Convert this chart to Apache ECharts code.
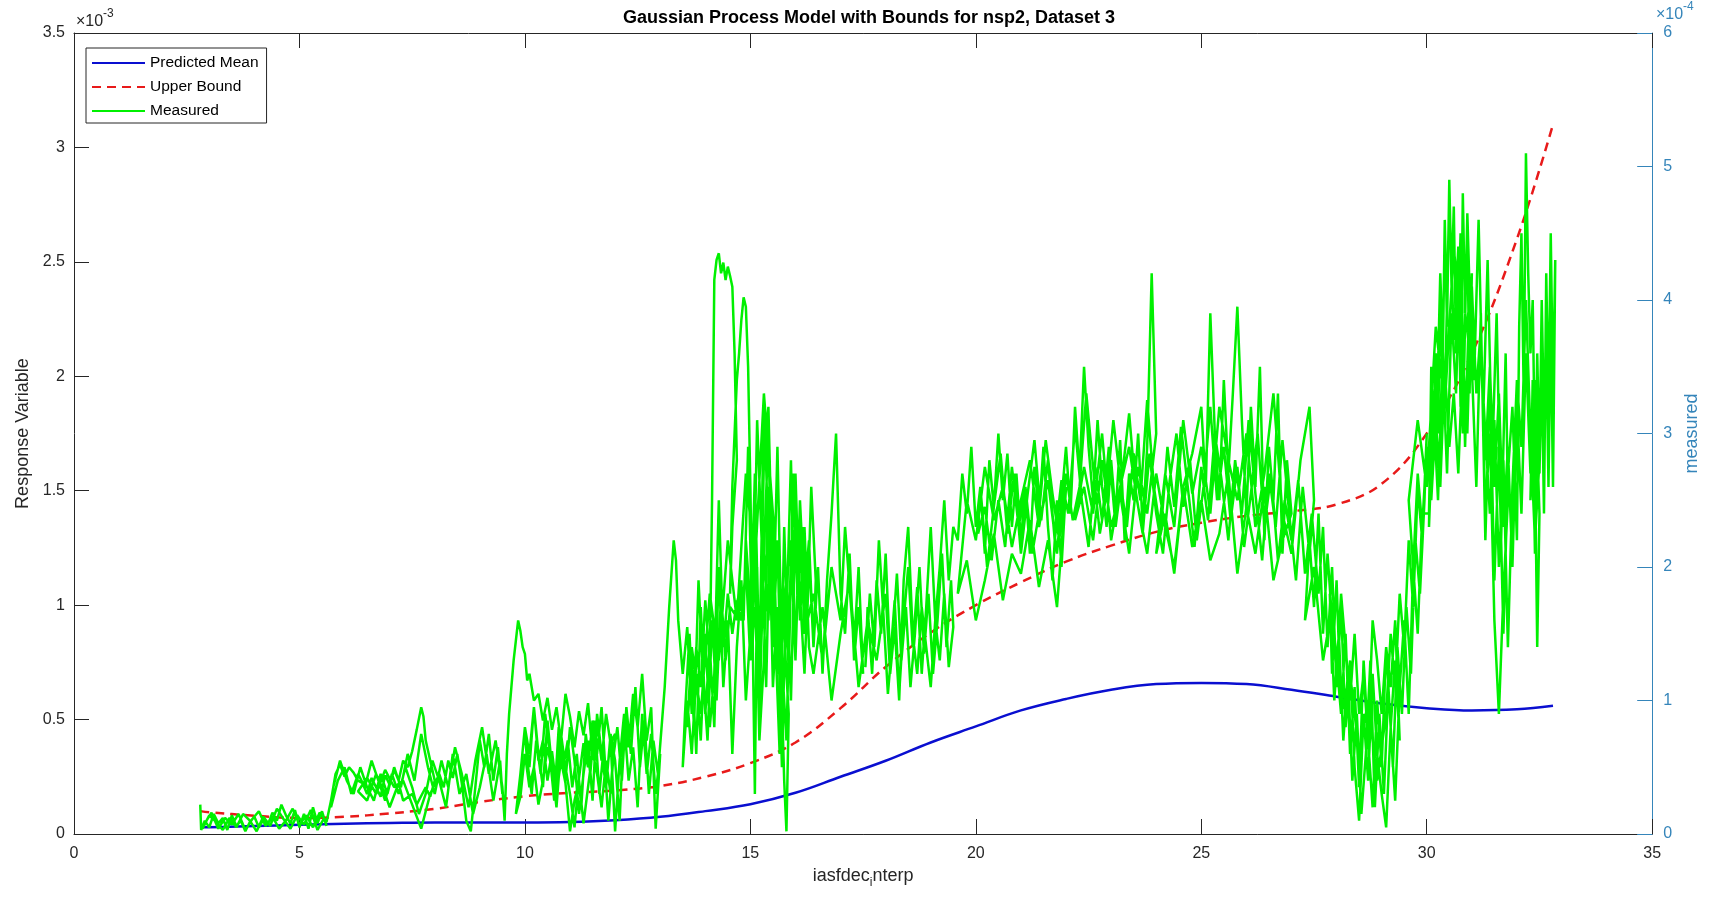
<!DOCTYPE html>
<html>
<head>
<meta charset="utf-8">
<title>Gaussian Process Model with Bounds for nsp2, Dataset 3</title>
<script src="https://cdn.jsdelivr.net/npm/echarts@6/dist/echarts.min.js"></script>
<style>
  html, body { margin: 0; padding: 0; background: #fff; }
  #chart { width: 1709px; height: 899px; }
</style>
</head>
<body>
<div id="chart"></div>
<script>
// model curves (left axis, units of 1e-3)
const modelX = [2.8, 3, 4, 5, 6, 7, 8, 9, 10, 11, 12, 13, 14, 15, 16, 17, 18, 19, 20, 21, 22, 23, 24, 25, 26, 27, 28, 29, 30, 31, 32, 32.8]
const predictedMean = [0.03, 0.03, 0.035, 0.04, 0.045, 0.048, 0.05, 0.05, 0.05, 0.052, 0.06, 0.075, 0.1, 0.13, 0.18, 0.25, 0.32, 0.4, 0.47, 0.54, 0.59, 0.63, 0.655, 0.66, 0.655, 0.63, 0.6, 0.57, 0.55, 0.54, 0.545, 0.56]
const upperBound = [0.1, 0.095, 0.08, 0.07, 0.075, 0.09, 0.11, 0.14, 0.165, 0.18, 0.19, 0.21, 0.25, 0.31, 0.4, 0.55, 0.73, 0.88, 1.0, 1.1, 1.19, 1.26, 1.32, 1.36, 1.39, 1.41, 1.44, 1.53, 1.75, 2.1, 2.6, 3.1]

// measured trace (right axis, units of 1e-4), one line per pass
const measuredX = [
  2.80,2.82,2.9,3.0,3.1,3.2,3.3,3.4,3.5,3.6,3.7,3.8,3.9,4.0,4.1,4.2,4.3,4.4,4.5,4.6,4.7,4.8,4.9,5.0,5.1,5.2,5.3,5.4,5.5,5.6,
  5.55,5.4,5.25,5.1,4.95,4.8,4.65,4.5,4.35,4.2,4.05,3.9,3.75,3.6,3.45,3.3,3.15,3.0,2.85,
  2.9,3.05,3.2,3.35,3.5,3.65,3.8,3.95,4.1,4.25,4.4,4.55,4.7,4.85,5.0,5.15,5.3,5.45,5.6,
  5.7,5.8,5.9,6.0,6.1,6.2,6.3,6.4,6.5,6.6,6.7,6.8,6.9,7.0,7.1,7.2,7.3,7.4,7.5,7.6,7.7,7.75,7.8,7.9,8.0,
  7.9,7.8,7.6,7.5,7.3,7.2,7.0,6.9,6.7,6.5,6.3,
  6.5,6.7,6.9,7.1,7.3,7.5,7.7,7.9,8.1,8.2,8.3,8.4,8.5,8.6,8.7,8.8,8.9,9.0,9.1,9.2,9.3,9.4,9.5,
  9.45,9.3,9.15,9.0,8.85,8.7,8.55,8.4,8.25,8.1,7.95,7.8,7.65,7.5,7.35,7.2,7.05,6.9,6.75,6.6,6.45,6.3,6.15,6.0,5.85,5.7,
  5.75,5.9,6.05,6.2,6.35,6.5,6.65,6.8,6.95,7.1,7.25,7.4,7.55,7.7,7.85,8.0,8.15,8.3,8.45,8.6,8.75,8.9,9.05,9.2,9.35,9.5,
  9.55,9.6,9.65,9.7,9.75,9.8,9.85,9.9,9.95,10.0,10.05,10.1,10.2,10.3,
  10.4,10.5,10.6,10.7,10.8,10.9,11.0,11.1,11.2,11.3,11.4,11.5,11.6,11.7,11.8,11.9,12.0,
  11.9,11.8,11.7,11.6,11.5,11.4,11.3,11.2,11.1,11.0,10.9,10.8,10.7,10.6,10.5,10.4,10.3,10.2,10.1,10.0,9.9,9.8,
  9.9,10.0,10.1,10.2,10.3,10.4,10.5,10.6,10.7,10.8,10.9,11.0,11.1,11.2,11.3,11.4,11.5,11.6,11.7,11.8,11.9,12.0,12.1,12.2,12.3,12.4,12.5,12.6,12.7,12.8,12.9,13.0,
  12.9,12.8,12.7,12.6,12.5,12.4,12.3,12.2,12.1,12.0,11.9,11.8,11.7,11.6,11.5,11.4,11.3,11.2,11.1,11.0,10.9,10.8,10.7,10.6,10.5,10.4,10.3,10.2,10.1,10.0,
  10.05,10.15,10.25,10.35,10.45,10.55,10.65,10.75,10.85,10.95,11.05,11.15,11.25,11.35,11.45,11.55,11.65,11.75,11.85,11.95,12.05,12.15,12.25,12.35,12.45,12.55,12.65,12.75,12.85,12.95,
  13.1,13.2,13.3,13.35,13.4,13.5,13.6,13.7,13.8,13.9,14.0,14.1,
  14.15,14.2,14.25,14.3,14.35,14.4,14.45,14.5,14.55,14.6,14.65,14.7,
  14.6,14.55,14.6,14.7,14.75,14.8,14.85,14.9,14.95,15.0,
  15.05,15.1,15.15,15.2,15.3,15.4,15.45,15.5,15.6,15.7,15.75,15.8,15.85,
  15.7,15.6,15.5,15.4,15.3,15.2,15.1,15.0,14.9,14.8,14.7,14.6,14.5,14.4,14.3,14.2,14.1,14.0,13.9,13.8,13.7,13.6,13.5,
  13.55,13.65,13.75,13.85,13.95,14.05,14.15,14.25,14.35,14.45,14.55,14.65,14.75,14.85,14.95,15.05,15.15,15.25,15.35,15.45,15.55,15.65,15.75,15.85,15.95,16.05,16.15,16.25,16.35,16.45,
  16.4,16.3,16.2,16.1,16.0,15.9,15.8,15.7,15.6,15.5,15.4,15.3,15.2,15.1,15.0,14.9,14.8,14.7,14.6,14.5,14.4,14.3,14.2,14.1,14.0,13.9,13.8,13.7,13.6,
  13.7,13.9,14.1,14.3,14.5,14.7,14.9,15.1,15.3,15.5,15.7,15.9,16.0,16.1,16.2,16.3,16.4,16.5,16.6,16.7,16.8,16.9,17.0,17.1,17.2,17.3,17.4,17.5,
  17.4,17.3,17.1,17.0,16.8,16.6,16.4,16.2,
  16.1,16.0,15.9,15.8,15.7,15.6,15.5,15.4,15.3,15.2,15.1,15.0,14.9,
  15.0,15.1,15.2,15.3,15.4,15.5,15.6,15.7,15.8,15.9,16.0,16.1,16.2,16.3,
  16.4,16.6,16.8,17.0,17.2,17.4,17.6,17.8,18.0,18.1,18.2,18.3,18.4,18.5,18.6,18.7,18.8,18.9,19.0,19.1,19.2,19.3,19.4,19.5,
  19.45,19.35,19.25,19.15,19.05,18.95,18.85,18.75,18.65,18.55,18.45,18.35,18.25,18.15,18.05,17.95,17.85,17.75,17.65,17.55,
  17.6,17.7,17.8,17.9,18.0,18.1,18.2,18.3,18.4,18.5,18.6,18.7,18.8,18.9,19.0,19.1,19.2,19.3,19.4,19.5,
  19.6,19.7,19.8,19.9,20.0,20.1,20.2,20.3,20.4,20.5,20.6,20.7,20.8,20.9,21.0,21.1,21.2,21.3,21.4,21.5,21.6,21.7,21.8,21.9,22.0,
  21.8,21.6,21.4,21.2,21.0,20.8,20.6,20.4,20.2,20.0,19.8,19.6,
  19.8,20.0,20.2,20.4,20.6,20.8,21.0,21.2,21.4,21.6,21.8,22.0,22.1,22.2,22.3,22.4,22.5,22.6,22.7,22.8,22.9,23.0,23.1,23.2,23.3,23.4,23.5,23.6,23.7,23.8,23.9,24.0,
  23.8,23.6,23.4,23.2,23.0,22.8,22.6,22.4,22.2,
  22.4,22.6,22.8,23.0,23.2,23.4,23.6,23.8,24.0,24.2,24.4,24.6,24.8,25.0,25.1,25.2,25.3,25.4,25.5,25.6,25.7,25.8,25.9,26.0,26.1,26.2,26.3,26.4,26.5,26.6,26.7,26.8,26.9,27.0,
  26.8,26.6,26.4,26.2,26.0,25.8,25.6,25.4,25.2,25.0,24.8,24.6,24.4,24.2,24.0,
  24.2,24.4,24.6,24.8,25.0,25.2,25.4,25.6,25.8,26.0,26.2,26.4,26.6,26.8,27.0,27.2,27.4,27.5,
  27.4,27.25,27.1,26.95,26.8,26.65,26.5,26.35,26.2,26.05,25.9,25.75,25.6,25.45,25.3,25.15,25.0,24.85,24.7,24.55,24.4,24.25,24.1,23.95,23.8,23.65,23.5,23.35,23.2,23.05,22.9,22.75,22.6,22.45,22.3,22.15,22.0,21.85,21.7,21.55,21.4,21.25,21.1,20.95,20.8,20.65,20.5,20.35,20.2,20.05,
  20.1,20.25,20.4,20.55,20.7,20.85,21.0,21.15,21.3,21.45,21.6,21.75,21.9,22.05,22.2,22.35,22.5,22.65,22.8,22.95,23.1,23.25,23.4,23.55,23.7,23.85,24.0,24.15,24.3,24.45,24.6,24.75,24.9,25.05,25.2,25.35,25.5,25.65,25.8,25.95,26.1,26.25,26.4,26.55,26.7,26.85,27.0,27.15,27.3,27.45,
  27.6,27.7,27.8,27.9,28.0,28.1,28.2,28.3,28.4,28.5,28.6,28.7,28.8,28.9,29.0,29.1,29.2,29.3,29.4,
  29.3,29.2,29.1,29.0,28.9,28.8,28.7,28.6,28.5,28.4,28.3,28.2,28.1,28.0,27.9,27.8,27.7,27.6,27.5,27.4,27.3,
  27.5,27.7,27.9,28.1,28.3,28.5,28.7,28.9,29.1,29.2,29.3,29.4,29.5,29.6,29.7,29.8,29.9,30.0,
  29.95,29.85,29.75,29.65,29.55,29.45,29.35,29.25,29.15,29.05,28.95,28.85,28.75,28.65,28.55,28.45,28.35,28.25,28.15,28.05,27.95,27.85,
  27.9,28.0,28.1,28.2,28.3,28.4,28.5,28.6,28.7,28.8,28.9,29.0,29.1,29.2,29.3,29.4,29.5,29.6,29.7,29.8,29.9,
  30.05,30.1,30.15,30.2,30.25,30.3,30.35,30.4,30.45,30.5,30.55,30.6,30.65,30.7,30.75,30.8,30.85,30.9,30.95,31.0,
  30.9,30.8,30.7,30.6,30.5,30.4,30.3,30.2,30.1,30.0,29.9,29.8,29.7,29.6,
  29.8,30.0,30.2,30.4,30.6,30.8,31.0,31.1,31.2,31.3,31.4,31.5,31.6,31.7,31.8,
  31.75,31.65,31.55,31.45,31.35,31.25,31.15,31.05,30.95,30.85,30.75,30.65,30.55,30.45,30.35,30.25,30.15,30.05,
  30.1,30.2,30.3,30.4,30.5,30.6,30.7,30.8,30.9,31.0,31.1,31.2,31.3,31.4,31.5,31.6,31.7,31.8,
  31.9,32.0,32.05,32.1,32.15,32.2,32.25,32.3,32.35,32.4,32.45,32.5,
  32.4,32.3,32.2,32.1,32.0,31.9,31.8,31.7,31.6,31.5,31.4,31.3,31.2,
  31.3,31.4,31.5,31.6,31.7,31.8,31.9,32.0,32.1,32.2,32.3,32.4,32.5,32.55,32.6,32.65,32.7,32.75,32.8,32.85,
  32.8,32.75,32.7,32.65,32.6,32.55,32.5,32.45,32.4,32.35,32.3,
  32.35,32.4,32.45,32.5,32.55,32.6,32.65,32.7,32.75,32.8,32.82
]
const measuredY = [
  0.22,0.03,0.10,0.05,0.15,0.08,0.12,0.03,0.14,0.06,0.10,0.02,0.09,0.13,0.05,0.11,0.07,0.16,0.10,0.22,0.14,0.08,0.18,0.05,0.15,0.04,0.20,0.08,0.17,0.06,
  0.12,0.03,0.18,0.07,0.14,0.04,0.11,0.19,0.06,0.13,0.02,0.10,0.15,0.05,0.12,0.03,0.09,0.14,0.04,
  0.08,0.16,0.04,0.12,0.07,0.15,0.03,0.11,0.17,0.06,0.13,0.04,0.10,0.19,0.07,0.14,0.05,0.16,0.09,
  0.25,0.45,0.52,0.43,0.50,0.46,0.40,0.38,0.30,0.42,0.35,0.28,0.44,0.37,0.48,0.40,0.55,0.50,0.62,0.78,0.95,0.88,0.70,0.55,0.40,
  0.28,0.35,0.22,0.30,0.25,0.38,0.20,0.30,0.45,0.25,0.32,
  0.42,0.30,0.48,0.35,0.40,0.22,0.04,0.30,0.45,0.35,0.55,0.42,0.60,0.38,0.10,0.02,0.35,0.70,0.50,0.75,0.40,0.65,0.30,
  0.55,0.25,0.60,0.35,0.15,0.45,0.30,0.60,0.20,0.40,0.55,0.30,0.15,0.35,0.50,0.30,0.45,0.25,0.40,0.55,0.35,0.45,0.30,0.50,0.40,0.20,
  0.35,0.55,0.40,0.30,0.50,0.35,0.25,0.45,0.30,0.50,0.35,0.60,0.40,0.75,0.50,0.30,0.55,0.35,0.65,0.45,0.20,0.55,0.80,0.45,0.70,0.35,
  0.10,0.60,0.90,1.10,1.30,1.45,1.60,1.52,1.40,1.35,1.15,1.20,1.00,1.05,
  0.85,1.02,0.78,0.95,0.70,1.05,0.88,0.65,0.92,0.74,0.98,0.60,0.82,0.55,0.90,0.68,0.75,
  0.30,0.55,0.20,0.45,0.62,0.35,0.08,0.40,0.25,0.02,0.38,0.55,0.30,0.48,0.65,0.40,0.22,0.50,0.35,0.60,0.28,0.15,
  0.45,0.80,0.60,0.95,0.55,0.70,0.40,0.62,0.35,0.75,0.50,0.30,0.05,0.42,0.68,0.50,0.85,0.60,0.95,0.40,0.70,0.02,0.55,0.90,0.65,1.05,0.80,1.20,0.70,0.95,0.04,0.60,
  0.30,0.75,0.45,0.90,0.20,0.65,0.40,0.85,0.10,0.55,0.75,0.35,0.60,0.90,0.25,0.70,0.45,0.15,0.55,0.80,0.40,0.65,0.20,0.50,0.85,0.35,0.60,0.95,0.50,0.75,
  0.55,0.30,0.70,0.45,0.90,0.60,0.25,0.80,0.50,0.70,0.35,0.60,0.20,0.75,0.45,0.85,0.30,0.65,0.10,0.55,0.80,0.40,0.95,0.60,1.10,0.50,0.85,0.30,0.70,0.45,
  1.10,1.70,2.20,2.05,1.60,1.20,1.55,0.90,1.40,1.10,1.75,1.30,
  2.50,4.15,4.30,4.35,4.20,4.28,4.15,4.25,4.18,4.10,3.60,2.80,
  2.30,1.80,2.60,3.40,3.60,3.85,4.02,3.95,3.50,2.60,
  1.50,0.30,2.00,1.20,2.80,3.20,2.50,1.40,2.20,1.00,0.40,0.02,0.90,
  1.80,1.20,2.40,1.60,2.10,0.90,1.70,1.30,2.00,1.60,1.75,1.50,1.80,1.40,2.50,1.20,0.80,1.50,0.70,1.20,0.60,1.00,0.50,
  0.90,1.50,0.80,1.90,1.20,0.70,1.60,1.00,1.80,1.30,1.70,1.65,1.80,1.60,2.90,1.40,3.10,2.20,1.10,2.60,1.50,0.60,2.30,1.20,2.70,1.70,2.30,1.50,2.60,1.90,
  1.40,2.10,1.20,1.80,2.40,1.00,2.00,0.50,1.70,1.10,2.60,1.30,0.70,2.10,1.50,1.00,1.90,1.40,0.60,1.60,1.10,2.00,0.80,1.40,0.90,1.70,0.60,1.30,0.80,
  1.40,0.90,1.80,1.30,2.20,1.60,2.70,2.00,3.30,2.40,1.60,2.20,1.30,2.50,1.80,2.20,1.40,2.00,1.20,1.90,2.40,3.00,1.80,1.50,2.10,1.30,1.70,1.20,
  2.00,1.40,2.30,1.60,2.00,1.30,1.80,1.50,
  2.40,1.30,2.80,1.60,0.80,2.20,1.40,3.00,2.10,1.10,2.50,1.70,2.20,
  1.50,2.70,1.20,3.30,2.20,1.50,2.90,1.30,0.70,2.10,2.70,1.60,2.30,1.40,
  1.20,1.70,1.00,1.50,1.90,1.10,1.60,1.30,1.80,1.20,1.55,1.00,1.90,2.30,1.50,1.20,1.70,1.40,1.10,1.60,1.30,1.80,1.25,1.55,
  1.90,1.40,2.10,1.60,1.20,1.80,1.35,2.00,1.50,1.10,1.70,1.30,1.95,1.45,1.05,1.65,2.20,1.40,1.80,1.25,
  1.70,1.20,1.90,1.50,2.10,1.30,1.75,1.05,1.60,2.00,1.40,1.85,1.20,1.70,2.30,1.60,2.00,2.50,1.90,2.30,
  2.20,2.70,2.40,2.90,2.30,2.60,2.10,2.80,2.45,3.00,2.50,2.85,2.30,2.70,2.20,2.60,2.10,2.75,2.40,2.90,2.30,1.90,2.50,2.00,2.60,
  1.70,2.20,1.85,2.35,1.95,2.10,1.75,2.25,1.90,1.60,2.05,1.80,
  2.50,2.20,2.75,2.35,2.60,2.15,2.50,2.80,2.30,2.65,2.10,2.90,2.40,3.20,2.70,3.50,2.90,2.50,3.10,2.60,2.30,2.80,2.40,2.95,2.20,2.70,2.50,3.00,2.30,2.90,4.20,3.00,
  2.40,2.75,2.10,2.55,2.30,2.80,2.20,2.60,2.35,
  2.75,2.40,3.00,2.20,2.60,2.90,2.45,2.10,2.70,2.30,2.00,2.60,2.85,3.20,2.60,3.90,3.00,2.50,3.40,2.70,3.30,3.95,3.10,2.40,3.20,2.60,3.50,2.20,2.90,2.50,3.30,2.10,2.80,2.40,
  2.20,1.90,2.60,2.10,2.45,1.95,2.70,2.25,2.05,2.50,2.15,2.60,1.95,2.40,2.10,
  2.70,2.30,3.10,2.55,2.90,2.40,3.20,2.80,2.50,3.00,2.30,2.70,3.30,2.40,2.10,2.80,3.20,2.50,
  2.10,2.60,1.90,2.40,2.95,2.30,2.70,2.05,2.55,3.10,2.40,2.80,2.20,2.65,3.00,2.35,2.75,2.15,2.60,3.05,2.45,2.90,2.25,2.60,3.25,2.50,2.85,2.30,2.65,3.10,2.55,2.25,2.75,3.30,2.60,2.35,2.70,2.20,2.55,2.95,2.40,2.10,2.60,2.30,2.75,2.15,2.50,2.05,2.45,2.25,
  2.60,2.00,2.45,2.85,2.25,2.70,2.10,2.55,2.95,2.35,2.80,2.20,2.65,2.40,3.05,2.50,2.15,2.75,2.35,2.90,2.30,2.70,3.15,2.55,2.25,2.85,2.40,2.10,2.65,3.00,2.45,2.80,2.20,2.60,3.20,2.50,2.90,2.35,2.75,2.15,2.55,3.00,2.30,2.70,2.05,2.50,2.20,2.65,1.95,2.40,
  1.80,2.30,1.40,2.00,1.10,1.70,0.80,1.30,0.50,0.10,0.90,0.40,1.20,0.60,0.30,0.05,0.80,1.30,0.70,
  1.60,1.10,1.40,0.90,1.30,1.60,0.70,1.20,0.90,1.50,1.00,1.40,1.80,1.20,1.60,2.10,1.50,2.40,1.70,2.20,1.60,
  2.00,1.30,1.70,0.90,1.20,0.60,1.00,0.40,0.90,1.50,1.10,1.80,1.40,2.20,1.70,2.60,2.20,3.00,
  2.50,1.80,2.20,1.20,1.70,0.90,1.40,0.50,1.10,0.30,0.90,0.20,1.30,0.60,0.15,0.90,0.40,1.20,0.70,1.50,1.00,1.80,
  1.20,1.90,0.90,1.50,0.60,1.10,0.35,1.30,0.70,0.20,1.00,0.50,1.40,0.80,0.25,1.10,1.60,0.90,2.00,1.50,2.40,
  2.40,3.30,2.80,3.60,3.00,4.00,3.40,4.60,3.80,4.90,4.10,4.70,3.60,4.30,3.20,4.80,3.90,4.50,3.30,4.20,
  3.00,3.60,2.70,3.30,2.90,3.50,2.60,3.10,2.50,2.90,2.30,2.70,2.00,2.50,
  3.10,2.60,3.80,3.20,4.40,3.60,4.10,3.30,3.80,2.40,3.00,1.60,0.90,1.80,2.50,
  3.60,2.20,3.90,2.80,4.30,3.10,4.60,3.40,4.10,2.90,4.50,3.30,3.90,2.70,3.60,2.50,3.20,2.30,
  3.50,2.80,4.20,3.20,4.80,3.70,4.40,3.00,4.65,3.50,2.60,3.90,2.20,3.40,1.90,2.90,1.50,2.70,
  3.20,2.20,3.80,4.50,3.30,5.10,4.20,3.60,4.00,2.80,1.40,2.40,
  3.40,2.70,3.60,2.40,3.20,2.00,2.90,2.30,3.30,2.60,3.50,2.80,3.60,
  3.00,2.40,3.10,2.00,2.80,1.40,2.60,3.40,2.90,4.00,3.00,2.20,2.80,3.60,2.50,4.20,3.20,4.50,3.30,4.30,
  2.60,3.80,2.90,4.10,2.40,3.50,2.70,3.20,2.10,3.00,2.50,
  3.40,2.50,3.60,2.80,4.00,3.10,3.70,2.60,3.90,3.20,3.80
]

const xTicks = { min: 0, max: 35, step: 5 }
const leftTicks = { min: 0, max: 3.5, step: 0.5 }
const rightTicks = { min: 0, max: 6, step: 1 }

const FONT = '"Liberation Sans", Arial, Helvetica, sans-serif'
const DARK = '#262626'
const BLUE_AX = '#3585ba'

const zip = (xs, ys) => xs.map((x, i) => [x, ys[i]])

const chart = echarts.init(document.getElementById('chart'))

const yAxisBase = {
  type: 'value',
  nameLocation: 'middle',
  nameRotate: 90,
  splitLine: { show: false }
}

chart.setOption({
  animation: false,
  backgroundColor: '#fff',
  title: {
    text: 'Gaussian Process Model with Bounds for nsp2, Dataset 3',
    left: 864, top: 4, textAlign: 'center',
    textStyle: { fontFamily: FONT, fontSize: 18, fontWeight: 'bold', color: '#000' }
  },
  grid: { left: 74, right: 54, top: 33, bottom: 65, containLabel: false },
  legend: {
    orient: 'vertical', left: 86, top: 48,
    padding: [7, 8, 4, 5], itemWidth: 53, itemHeight: 14, itemGap: 8,
    backgroundColor: '#fff', borderColor: DARK, borderWidth: 1,
    itemStyle: { opacity: 0 },
    textStyle: { fontFamily: FONT, fontSize: 15.5, color: '#000' },
    data: ['Predicted Mean', 'Upper Bound', 'Measured']
  },
  xAxis: [{
    type: 'value', position: 'bottom',
    min: xTicks.min, max: xTicks.max, interval: xTicks.step,
    name: '{n|iasfdec}{s|i}{n|nterp}',
    nameLocation: 'middle', nameGap: 28,
    nameTextStyle: {
      rich: {
        n: { fontFamily: FONT, fontSize: 18, color: DARK },
        s: { fontFamily: FONT, fontSize: 12, color: DARK, padding: [14, 0, 0, 0] }
      }
    },
    splitLine: { show: false },
    axisLine: { onZero: false, lineStyle: { color: DARK, width: 1 } },
    axisTick: { inside: true, length: 15, lineStyle: { color: DARK } },
    axisLabel: { fontFamily: FONT, fontSize: 16, color: DARK, margin: 12 }
  }, {
    type: 'value', position: 'top',
    min: xTicks.min, max: xTicks.max, interval: xTicks.step,
    splitLine: { show: false },
    axisLine: { onZero: false, lineStyle: { color: DARK, width: 1 } },
    axisTick: { inside: true, length: 15, lineStyle: { color: DARK } },
    axisLabel: { show: false }
  }],
  yAxis: [Object.assign({}, yAxisBase, {
    position: 'left',
    min: leftTicks.min, max: leftTicks.max, interval: leftTicks.step,
    name: 'Response Variable', nameGap: 41,
    nameTextStyle: { fontFamily: FONT, fontSize: 18, color: DARK },
    axisLine: { show: true, onZero: false, lineStyle: { color: DARK, width: 1 } },
    axisTick: { show: true, inside: true, length: 15, lineStyle: { color: DARK } },
    axisLabel: { fontFamily: FONT, fontSize: 16, color: DARK, margin: 9 }
  }), Object.assign({}, yAxisBase, {
    position: 'right',
    min: rightTicks.min, max: rightTicks.max, interval: rightTicks.step,
    name: 'measured', nameGap: 28,
    nameTextStyle: { fontFamily: FONT, fontSize: 18, color: BLUE_AX },
    axisLine: { show: true, onZero: false, lineStyle: { color: BLUE_AX, width: 1 } },
    axisTick: { show: true, inside: true, length: 15, lineStyle: { color: BLUE_AX } },
    axisLabel: { fontFamily: FONT, fontSize: 16, color: BLUE_AX, margin: 11 }
  })],
  graphic: [
    { type: 'text', left: 76, top: 14, style: { text: '×10', font: '16px ' + FONT, fill: DARK } },
    { type: 'text', left: 103, top: 8, style: { text: '-3', font: '12px ' + FONT, fill: DARK } },
    { type: 'text', left: 1656, top: 7, style: { text: '×10', font: '16px ' + FONT, fill: BLUE_AX } },
    { type: 'text', left: 1683, top: 1, style: { text: '-4', font: '12px ' + FONT, fill: BLUE_AX } }
  ],
  series: [{
    name: 'Predicted Mean', type: 'line', xAxisIndex: 0, yAxisIndex: 0,
    data: zip(modelX, predictedMean), smooth: 0.4, showSymbol: false, symbol: 'none',
    color: '#0a0fd0', lineStyle: { width: 2.5, color: '#0a0fd0' }, z: 2
  }, {
    name: 'Upper Bound', type: 'line', xAxisIndex: 0, yAxisIndex: 0,
    data: zip(modelX, upperBound), smooth: 0.4, showSymbol: false, symbol: 'none',
    color: '#e81a1a', lineStyle: { width: 2.5, type: [9, 6], color: '#e81a1a' }, z: 2
  }, {
    name: 'Measured', type: 'line', xAxisIndex: 0, yAxisIndex: 1,
    data: zip(measuredX, measuredY), showSymbol: false, symbol: 'none',
    color: '#00f000', lineStyle: { width: 2.5, color: '#00f000' }, z: 3
  }]
})
</script>
</body>
</html>
